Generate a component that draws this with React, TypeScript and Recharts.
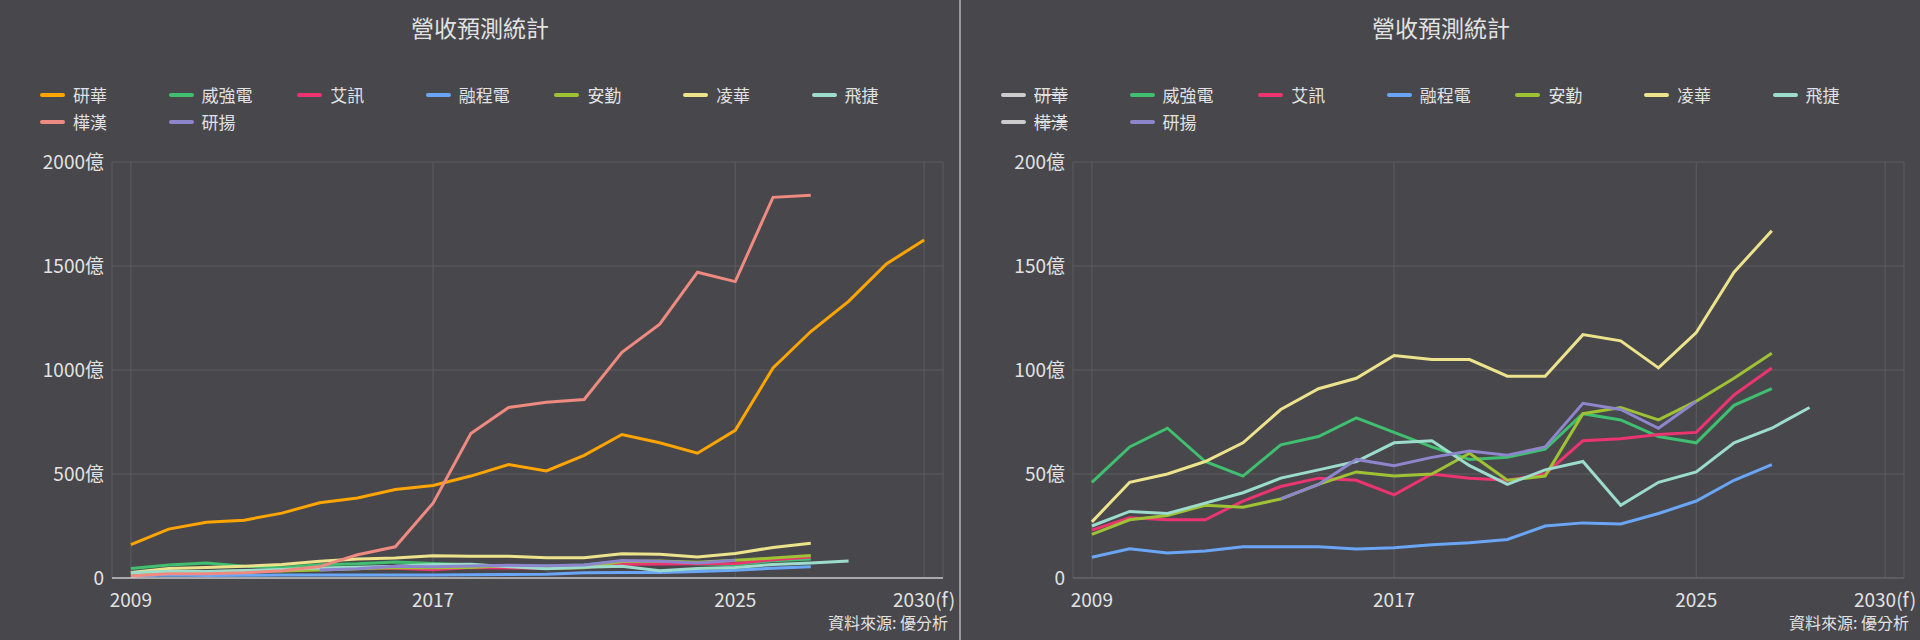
import { LineChart, Line, XAxis, YAxis, CartesianGrid } from "recharts";

const years = [2009, 2010, 2011, 2012, 2013, 2014, 2015, 2016, 2017, 2018, 2019, 2020, 2021, 2022, 2023, 2024, 2025, 2026, 2027, 2028, 2029, 2030];

// 億
const advantech = [160, 235, 268, 278, 312, 362, 385, 425, 445, 490, 545, 515, 590, 690, 650, 600, 710, 1010, 1185, 1330, 1510, 1625];
const ieiw = [46, 63, 72, 56, 49, 64, 68, 77, 70, 63, 57, 58, 62, 79, 76, 68, 65, 83, 91];
const axiomtek = [23, 29, 28, 28, 37, 44, 48, 47, 40, 50, 48, 47, 50, 66, 67, 69, 70, 88, 101];
const winmate = [10, 14, 12, 13, 15, 15, 15, 14, 14.5, 16, 17, 18.5, 25, 26.5, 26, 31, 37, 47, 54.5];
const avalue = [21, 28, 30, 35, 34, 38, 45, 51, 49, 50, 60, 47, 49, 79, 82, 76, 85, 96, 108];
const adlink = [27, 46, 50, 56, 65, 81, 91, 96, 107, 105, 105, 97, 97, 117, 114, 101, 118, 147, 167];
const flytech = [25, 32, 31, 36, 41, 48, 52, 56, 65, 66, 54, 45, 52, 56, 35, 46, 51, 65, 72, 82];
const ennoconn = [10, 20, 20, 25, 35, 55, 112, 150, 360, 695, 820, 845, 858, 1085, 1220, 1470, 1425, 1830, 1840];
const aaeon = [null, null, null, null, null, 38, 45, 57, 54, 58, 61, 59, 63, 84, 81, 72, 85];

const series = [
  { key: "研華", values: advantech, color: "#ffa500" },
  { key: "威強電", values: ieiw, color: "#3fbf6f" },
  { key: "艾訊", values: axiomtek, color: "#ec3470" },
  { key: "融程電", values: winmate, color: "#6aa6f5" },
  { key: "安勤", values: avalue, color: "#9ec234" },
  { key: "凌華", values: adlink, color: "#ece38c" },
  { key: "飛捷", values: flytech, color: "#9cdccc" },
  { key: "樺漢", values: ennoconn, color: "#ef8a80" },
  { key: "研揚", values: aaeon, color: "#8d86cc" },
];

const data = years.map((y, i) => {
  const row: Record<string, number | null> = { year: y };
  series.forEach((s) => {
    const v = s.values[i];
    row[s.key] = v === undefined ? null : v;
  });
  return row;
});

const xTicks = [2009, 2017, 2025, 2030];
const leftTicks = [0, 500, 1000, 1500, 2000];
const rightTicks = [0, 50, 100, 150, 200];

const textColor = "#e2e2e2";
const font = "'Noto Sans CJK TC', 'Noto Sans', sans-serif";

function Panel({ yTicks, hidden, left }: { yTicks: number[]; hidden: string[]; left: number }) {
  return (
    <div style={{ position: "absolute", left, top: 0, width: 960, height: 640 }}>
      <div style={{ position: "absolute", top: 10, width: 960, textAlign: "center", fontSize: 23, color: textColor }}>
        營收預測統計
      </div>
      <div style={{ position: "absolute", top: 82, left: 40, width: 910, display: "flex", flexWrap: "wrap", rowGap: 2 }}>
        {series.map((s) => {
          const off = hidden.includes(s.key);
          return (
            <div key={s.key} style={{ width: 128.6, display: "flex", alignItems: "center", fontSize: 17, color: textColor, height: 25 }}>
              <span style={{ display: "inline-block", width: 25, height: 4, background: off ? "#cccccc" : s.color, marginRight: 8, borderRadius: 2 }} />
              <span style={{ textDecoration: off ? "line-through" : "none" }}>{s.key}</span>
            </div>
          );
        })}
      </div>
      <div style={{ position: "absolute", top: 130 }}>
        <LineChart width={960} height={500} data={data} margin={{ top: 32, right: 17, left: 0, bottom: 22 }}>
          <CartesianGrid stroke="#5c5c61" />
          <XAxis
            dataKey="year"
            type="number"
            domain={[2008.5, 2030.5]}
            ticks={xTicks}
            tickFormatter={(v) => (v === 2030 ? "2030(f)" : String(v))}
            tick={{ fill: textColor, fontSize: 19, dy: 8 }}
            tickLine={false}
            axisLine={{ stroke: left === 0 ? "#ffffff" : "#6a6a6e" }}
            height={30}
          />
          <YAxis
            domain={[0, yTicks[yTicks.length - 1]]}
            ticks={yTicks}
            tickFormatter={(v) => (v === 0 ? "0" : `${v}億`)}
            tick={{ fill: textColor, fontSize: 19 }}
            axisLine={false}
            tickLine={false}
            width={112}
            allowDataOverflow
          />
          {series
            .filter((s) => !hidden.includes(s.key))
            .map((s) => (
              <Line
                key={s.key}
                dataKey={s.key}
                stroke={s.color}
                strokeWidth={3}
                dot={false}
                type="linear"
                isAnimationActive={false}
              />
            ))}
        </LineChart>
      </div>
      <div style={{ position: "absolute", right: 12, top: 612, fontSize: 16, lineHeight: "20px", color: textColor }}>資料來源: 優分析</div>
    </div>
  );
}

export default function App() {
  return (
    <div style={{ position: "fixed", left: 0, top: 0, width: 1920, height: 640, background: "#48474c", fontFamily: font, overflow: "hidden" }}>
      <Panel yTicks={leftTicks} hidden={[]} left={0} />
      <div style={{ position: "absolute", left: 959, top: 0, width: 2, height: 640, background: "#9a9a9e" }} />
      <Panel yTicks={rightTicks} hidden={["研華", "樺漢"]} left={961} />
    </div>
  );
}
